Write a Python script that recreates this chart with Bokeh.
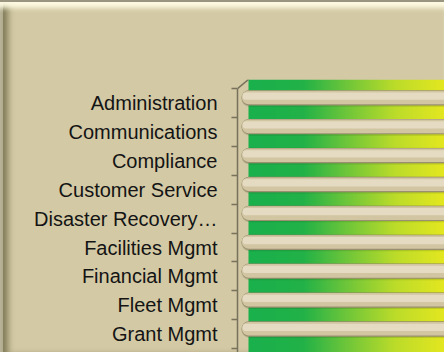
import numpy as np
from bokeh.plotting import figure
from bokeh.models import Range1d, FixedTicker, LinearAxis
from bokeh.embed import file_html
from bokeh.resources import INLINE

# ---- data ----
categories = ["Administration", "Communications", "Compliance", "Customer Service",
              "Disaster Recovery\u2026", "Facilities Mgmt", "Financial Mgmt",
              "Fleet Mgmt", "Grant Mgmt"]
values = [100, 100, 100, 100, 100, 100, 100, 100, 100]

# ---- geometry / style constants ----
W, H = 444, 352
X0, X1 = -1.0, 50.75          # x range (frame 237..444 px)
WALL_X = 1.75                 # where the back wall starts
Y_BOTTOM, Y_TOP = -8.633, 0.813
BG = "#D3C9A5"
AXIS = "#77725c"

positions = [-i for i in range(len(categories))]

p = figure(width=W, height=H, output_backend="svg", toolbar_location=None,
           x_range=Range1d(X0, X1), y_range=Range1d(Y_BOTTOM, Y_TOP),
           x_axis_type=None, y_axis_type=None,
           min_border_left=237, min_border_top=79, min_border_right=0, min_border_bottom=0)
p.background_fill_color = None
p.border_fill_color = None
p.outline_line_color = None
p.grid.visible = False
p.styles = {
    "background": BG,
    "box-shadow": ("inset 0 2px 0 0 #9a9580, inset 0 11px 5px -3px rgba(255,252,228,0.95), "
                   "inset 3px 0 0 0 #b2ad90, inset 11px 0 6px -3px rgba(110,105,70,0.8)"),
}

# ---- back wall gradient (green -> yellow) ----
N = 300
stops_f = [0.0, 0.28, 0.5, 0.75, 1.0]
stops_c = np.array([[26, 176, 76], [34, 178, 72], [110, 198, 58], [188, 220, 42], [228, 231, 32]])
f = np.linspace(0, 1, N)
img = np.zeros((1, N), dtype=np.uint32)
view = img.view(dtype=np.uint8).reshape((1, N, 4))
for k in range(3):
    view[0, :, k] = np.interp(f, stops_f, stops_c[:, k]).astype(np.uint8)
view[0, :, 3] = 255
p.image_rgba(image=[img], x=WALL_X, y=Y_BOTTOM, dw=X1 - WALL_X, dh=Y_TOP - Y_BOTTOM)

# ---- cylinder bars ----
bar_y = [pos + 0.18 for pos in positions]
# soft shadow on the wall
p.hbar(y=[y - 0.02 for y in bar_y], left=0, right=values, height=0.58,
       fill_color="#1d3a10", fill_alpha=0.15, line_color=None, border_radius=(8, 0, 0, 8))
p.hbar(y=bar_y, left=0, right=values, height=0.53,
       fill_color="#9a8f70", line_color=None, border_radius=(8, 0, 0, 8))
p.hbar(y=[y + 0.01 for y in bar_y], left=0.08, right=values, height=0.47,
       fill_color="#d2c5a2", line_color=None, border_radius=(7, 0, 0, 7))
p.hbar(y=[y + 0.06 for y in bar_y], left=0.3, right=values, height=0.25,
       fill_color="#e4dbc2", line_color=None, border_radius=(3, 0, 0, 3))

# ---- axis ----
ax = LinearAxis()
ax.ticker = FixedTicker(ticks=positions, minor_ticks=[0.5 - i for i in range(len(categories) + 1)])
ax.major_label_overrides = {pos: cat for pos, cat in zip(positions, categories)}
ax.bounds = (Y_BOTTOM, 0.5)
ax.axis_line_color = AXIS
ax.axis_line_width = 1.5
ax.major_tick_out = 0
ax.major_tick_in = 0
ax.minor_tick_out = 6
ax.minor_tick_in = 0
ax.minor_tick_line_color = AXIS
ax.minor_tick_line_width = 1.5
ax.major_label_standoff = 14
ax.major_label_text_font = "Liberation Sans"
ax.major_label_text_font_size = "20px"
ax.major_label_text_color = "#141414"
p.add_layout(ax, "left")

# 3D corner edge at top of axis
p.line(x=[X0, WALL_X], y=[0.5, Y_TOP], line_color=AXIS, line_width=1.5)

open("out.html", "w").write(file_html(p, INLINE))
